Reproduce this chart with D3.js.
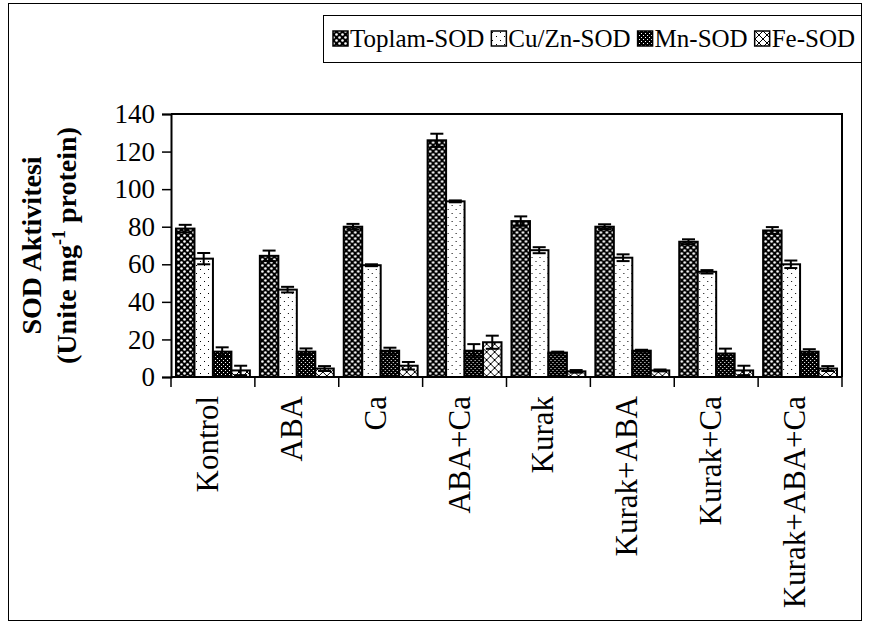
<!DOCTYPE html>
<html>
<head>
<meta charset="utf-8">
<script src="https://cdn.jsdelivr.net/npm/d3@7"></script>
<style>
  body { margin: 0; background: #fff; }
  svg { display: block; }
  text { font-family: "Liberation Serif", serif; fill: #000; }
</style>
</head>
<body>
<div id="chart"></div>
<script>
// data
const categories = ["Kontrol", "ABA", "Ca", "ABA+Ca", "Kurak", "Kurak+ABA", "Kurak+Ca", "Kurak+ABA+Ca"];
const seriesNames = ["Toplam-SOD", "Cu/Zn-SOD", "Mn-SOD", "Fe-SOD"];
const toplam = [79, 64.5, 80, 126, 83, 80, 72, 78];
const cuzn = [63, 46.5, 59.5, 93.5, 67.5, 63.5, 56, 60];
const mn = [13.5, 13.5, 14, 14, 13, 14, 12.5, 13.5];
const fe = [3.5, 4.5, 6, 18.5, 3, 3.5, 3.5, 4.5];
const toplamErr = [2, 2.8, 1.5, 3.5, 2.5, 1.3, 1.3, 1.8];
const cuznErr = [3, 1.5, 0.5, 0.5, 1.6, 1.8, 0.9, 2];
const mnErr = [2.3, 1.7, 1.6, 3.5, 0.5, 0.5, 2.6, 1.3];
const feErr = [2.5, 1.3, 2, 3.5, 0.7, 0.5, 2.5, 1.3];
const yTicks = [0, 20, 40, 60, 80, 100, 120, 140];

const values = [toplam, cuzn, mn, fe];
const errs = [toplamErr, cuznErr, mnErr, feErr];

const W = 869, H = 623;
const margin = { top: 114, right: 27, bottom: 240, left: 171 };

const svg = d3.select("#chart").append("svg")
    .attr("width", W)
    .attr("height", H);

// fill patterns, black & white like the print
const defs = svg.append("defs");

const p0 = defs.append("pattern").attr("id", "pat0")
    .attr("patternUnits", "userSpaceOnUse").attr("width", 6).attr("height", 6);
p0.append("rect").attr("width", 6).attr("height", 6).attr("fill", "#000");
p0.append("circle").attr("cx", 1.5).attr("cy", 1.5).attr("r", 1.3).attr("fill", "#fff");
p0.append("circle").attr("cx", 4.5).attr("cy", 4.5).attr("r", 1.3).attr("fill", "#fff");

const p1 = defs.append("pattern").attr("id", "pat1")
    .attr("patternUnits", "userSpaceOnUse").attr("width", 8).attr("height", 8);
p1.append("rect").attr("width", 8).attr("height", 8).attr("fill", "#fff");
p1.append("rect").attr("x", 1).attr("y", 1).attr("width", 1).attr("height", 1).attr("fill", "#000");
p1.append("rect").attr("x", 5).attr("y", 5).attr("width", 1).attr("height", 1).attr("fill", "#000");

const p2 = defs.append("pattern").attr("id", "pat2")
    .attr("patternUnits", "userSpaceOnUse").attr("width", 4).attr("height", 4);
p2.append("rect").attr("width", 4).attr("height", 4).attr("fill", "#000");
p2.append("rect").attr("x", 0).attr("y", 0).attr("width", 1).attr("height", 1).attr("fill", "#fff");
p2.append("rect").attr("x", 2).attr("y", 2).attr("width", 1).attr("height", 1).attr("fill", "#fff");

const p3 = defs.append("pattern").attr("id", "pat3")
    .attr("patternUnits", "userSpaceOnUse").attr("width", 8).attr("height", 8);
p3.append("rect").attr("width", 8).attr("height", 8).attr("fill", "#fff");
p3.append("path").attr("d", "M0,0L8,8M8,0L0,8").attr("stroke", "#000").attr("stroke-width", 1);

// outer frame
svg.append("rect")
    .attr("x", 8.5).attr("y", 3.5)
    .attr("width", 853).attr("height", 617)
    .attr("fill", "none").attr("stroke", "#000").attr("stroke-width", 1);

// scales
const x0 = d3.scaleBand()
    .domain(categories)
    .range([margin.left, W - margin.right]);

const x1 = d3.scaleBand()
    .domain(d3.range(4))
    .range([0, x0.bandwidth()])
    .paddingOuter(0.27);

const y = d3.scaleLinear()
    .domain([0, 140])
    .range([H - margin.bottom - 6, margin.top]);

// plot frame (top + right)
svg.append("path")
    .attr("d", `M${margin.left},${margin.top}H${W - margin.right}V${y(0)}`)
    .attr("fill", "none").attr("stroke", "#000").attr("stroke-width", 2);

// bars
const groups = svg.append("g")
    .selectAll("g")
    .data(categories)
    .join("g")
    .attr("transform", d => `translate(${x0(d)},0)`);

groups.selectAll("rect")
    .data((d, i) => values.map((v, s) => ({ s: s, v: v[i], e: errs[s][i] })))
    .join("rect")
    .attr("x", d => x1(d.s))
    .attr("y", d => y(d.v))
    .attr("width", x1.bandwidth())
    .attr("height", d => y(0) - y(d.v))
    .attr("fill", d => `url(#pat${d.s})`)
    .attr("stroke", "#000")
    .attr("stroke-width", 2);

// error bars
const eb = groups.selectAll("g.err")
    .data((d, i) => values.map((v, s) => ({ s: s, v: v[i], e: errs[s][i] })))
    .join("g")
    .attr("class", "err")
    .attr("stroke", "#000")
    .attr("stroke-width", 2);

eb.append("line")
    .attr("x1", d => x1(d.s) + x1.bandwidth() / 2)
    .attr("x2", d => x1(d.s) + x1.bandwidth() / 2)
    .attr("y1", d => y(d.v - d.e))
    .attr("y2", d => y(d.v + d.e));
eb.append("line")
    .attr("x1", d => x1(d.s) + x1.bandwidth() / 2 - 6.5)
    .attr("x2", d => x1(d.s) + x1.bandwidth() / 2 + 6.5)
    .attr("y1", d => y(d.v + d.e))
    .attr("y2", d => y(d.v + d.e));
eb.append("line")
    .attr("x1", d => x1(d.s) + x1.bandwidth() / 2 - 6.5)
    .attr("x2", d => x1(d.s) + x1.bandwidth() / 2 + 6.5)
    .attr("y1", d => y(d.v - d.e))
    .attr("y2", d => y(d.v - d.e));

// y axis
const yAxis = svg.append("g")
    .attr("transform", `translate(${margin.left},0)`)
    .call(d3.axisLeft(y).tickValues(yTicks).tickSize(9).tickPadding(7));
yAxis.select(".domain").attr("stroke-width", 2);
yAxis.selectAll(".tick line").attr("stroke-width", 1.5);
yAxis.selectAll("text")
    .attr("font-family", "Liberation Serif")
    .attr("font-size", 27)
    .attr("fill", "#000");

// x axis: ticks at group boundaries, labels rotated
const xAxis = svg.append("g")
    .attr("transform", `translate(0,${y(0)})`);
xAxis.append("line")
    .attr("x1", margin.left).attr("x2", W - margin.right)
    .attr("stroke", "#000").attr("stroke-width", 2);
xAxis.selectAll("line.tk")
    .data(categories.concat([null]))
    .join("line")
    .attr("class", "tk")
    .attr("x1", (d, i) => margin.left + i * x0.step())
    .attr("x2", (d, i) => margin.left + i * x0.step())
    .attr("y1", 0).attr("y2", 10)
    .attr("stroke", "#000").attr("stroke-width", 1.5);
xAxis.selectAll("text")
    .data(categories)
    .join("text")
    .attr("transform", d => `translate(${x0(d) + x0.bandwidth() / 2 + 5},19) rotate(-90)`)
    .attr("text-anchor", "end")
    .attr("font-family", "Liberation Serif")
    .attr("font-size", 31)
    .text(d => d);

// y axis title
const yt = svg.append("text")
    .attr("transform", `translate(41,${(margin.top + y(0)) / 2}) rotate(-90)`)
    .attr("text-anchor", "middle")
    .attr("font-family", "Liberation Serif")
    .attr("font-size", 28)
    .attr("font-weight", "bold");
yt.append("tspan").attr("x", 0).attr("y", 0).text("SOD Aktivitesi");
yt.append("tspan").text("(Unite mg").attr("x", 0).attr("dy", 35);
yt.append("tspan").text("-1").attr("dy", -11).attr("font-size", 18);
yt.append("tspan").text(" protein)").attr("dy", 11);

// legend
const legend = svg.append("g").attr("transform", "translate(323,15)");
legend.append("rect")
    .attr("x", 0.5).attr("y", 0.5)
    .attr("width", 538).attr("height", 47)
    .attr("fill", "#fff").attr("stroke", "#000").attr("stroke-width", 1);
let lx = 10;
seriesNames.forEach((name, i) => {
  legend.append("rect")
      .attr("x", lx).attr("y", 16).attr("width", 15).attr("height", 15)
      .attr("fill", `url(#pat${i})`).attr("stroke", "#000").attr("stroke-width", 1.5);
  const t = legend.append("text")
      .attr("x", lx + 17).attr("y", 32)
      .attr("font-family", "Liberation Serif")
      .attr("font-size", 25)
      .text(name);
  lx += 17 + t.node().getComputedTextLength() + 7;
});
</script>
</body>
</html>
